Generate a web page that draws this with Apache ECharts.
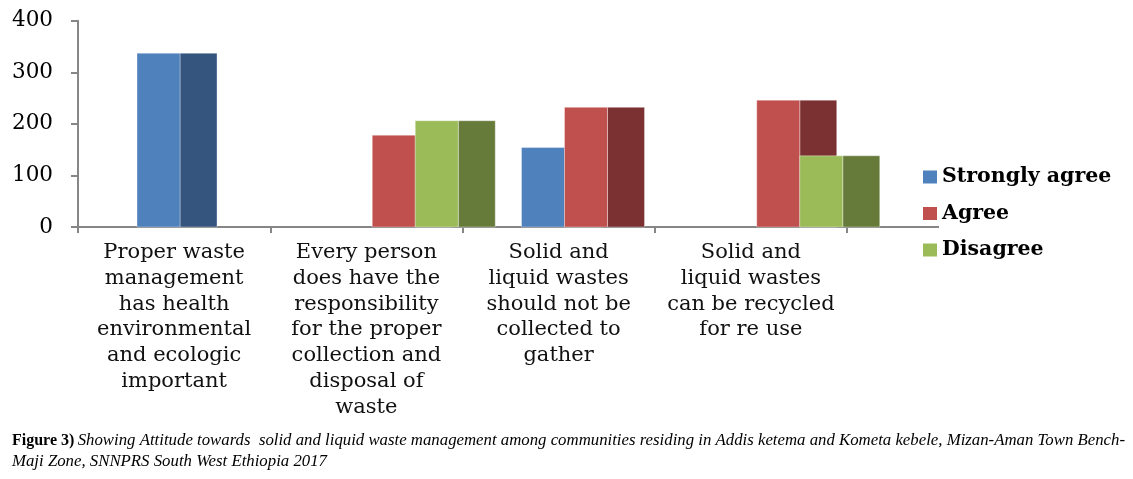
<!DOCTYPE html>
<html>
<head>
<meta charset="utf-8">
<script src="https://cdn.jsdelivr.net/npm/echarts@6/dist/echarts.min.js"></script>
<style>html,body{margin:0;padding:0;background:#fff;}#c{width:1133px;height:479px;}</style>
</head>
<body>
<div id="c"></div>
<script>
const categories = [
  'Proper waste\nmanagement\nhas health\nenvironmental\nand ecologic\nimportant',
  'Every person\ndoes have the\nresponsibility\nfor the proper\ncollection and\ndisposal of\nwaste',
  'Solid and\nliquid wastes\nshould not be\ncollected to\ngather',
  'Solid and\nliquid wastes\ncan be recycled\nfor re use'
];
const seriesNames = ['Strongly agree', 'Agree', 'Disagree'];
const stronglyAgree = [337, 0, 154, 0];
const agree = [0, 178, 232, 246];
const disagree = [0, 206, 0, 138];
const yTicks = [0, 100, 200, 300, 400];
const captionLine1Bold = 'Figure 3)';
const captionLine1 = 'Showing Attitude towards  solid and liquid waste management among communities residing in Addis ketema and Kometa kebele, Mizan-Aman Town Bench-';
const captionLine2 = 'Maji Zone, SNNPRS South West Ethiopia 2017';

const frontColors = ['#4F81BD', '#C0504D', '#9BBB59'];
const sideColors = ['#35557E', '#7B3131', '#667A3A'];
const values = [stronglyAgree, agree, disagree];

const chart = echarts.init(document.getElementById('c'), null, {renderer: 'canvas'});

function makeRender(idx) {
  return function (params, api) {
    const v = api.value(1);
    if (!v) return null;
    const c = api.value(0);
    const band = api.size([1, 0])[0];
    const base = api.coord([c, 0]);
    const top = api.coord([c, v]);
    const unit = band / 192.25;
    const fw = 43 * unit, sw = 37 * unit;
    const left = base[0] - band / 2 + 59 * unit + idx * fw;
    const h = base[1] - top[1];
    return {
      type: 'group',
      children: [
        {type: 'rect', shape: {x: left + fw, y: top[1], width: sw, height: h},
         style: {fill: sideColors[idx], stroke: 'rgba(255,255,255,0.35)', lineWidth: 1}},
        {type: 'rect', shape: {x: left, y: top[1], width: fw, height: h},
         style: {fill: frontColors[idx], stroke: 'rgba(255,255,255,0.35)', lineWidth: 1}}
      ]
    };
  };
}

const series = seriesNames.map((name, i) => ({
  name: name,
  type: 'custom',
  renderItem: makeRender(i),
  itemStyle: {color: frontColors[i]},
  encode: {x: 0, y: 1},
  data: values[i].map((v, j) => [j, v]),
  z: 2 + i
}));

const option = {
  animation: false,
  backgroundColor: '#fff',
  grid: {left: 78, right: 1133 - 847, top: 20.7, bottom: 479 - 227, containLabel: false},
  xAxis: {
    type: 'category',
    data: categories,
    boundaryGap: true,
    axisLine: {show: true, lineStyle: {color: '#868686', width: 2}},
    axisTick: {show: true, length: 6, lineStyle: {color: '#868686', width: 2}, alignWithLabel: false},
    axisLabel: {interval: 0, margin: 13, color: '#111', fontFamily: 'DejaVu Serif', fontSize: 21, lineHeight: 25.7, align: 'center'},
    splitLine: {show: false}
  },
  yAxis: {
    type: 'value',
    min: yTicks[0],
    max: yTicks[yTicks.length - 1],
    interval: 100,
    axisLine: {show: true, lineStyle: {color: '#868686', width: 2}},
    axisTick: {show: true, length: 7, lineStyle: {color: '#868686', width: 2}},
    axisLabel: {margin: 25, color: '#000', fontFamily: 'DejaVu Serif', fontSize: 21.5},
    splitLine: {show: false}
  },
  legend: {
    orient: 'vertical',
    left: 918,
    top: 160,
    icon: 'rect',
    itemWidth: 14,
    itemHeight: 13,
    itemGap: 12.5,
    data: seriesNames,
    textStyle: {fontFamily: 'DejaVu Serif', fontWeight: 'bold', fontSize: 20.5, color: '#000', lineHeight: 24}
  },
  graphic: [
    {type: 'line', shape: {x1: 847, y1: 227, x2: 939, y2: 227}, style: {stroke: '#868686', lineWidth: 2}, silent: true},
    {
      type: 'text', left: 12, top: 432,
      style: {
        text: '{b|' + captionLine1Bold + '} {i|' + captionLine1 + '}\n{i|' + captionLine2 + '}',
        rich: {
          b: {fontFamily: 'Liberation Serif', fontWeight: 'bold', fontSize: 16, lineHeight: 21, fill: '#000'},
          i: {fontFamily: 'Liberation Serif', fontStyle: 'italic', fontSize: 16.8, lineHeight: 21, fill: '#000'}
        }
      }
    }
  ],
  series: series
};
chart.setOption(option);
</script>
</body>
</html>
